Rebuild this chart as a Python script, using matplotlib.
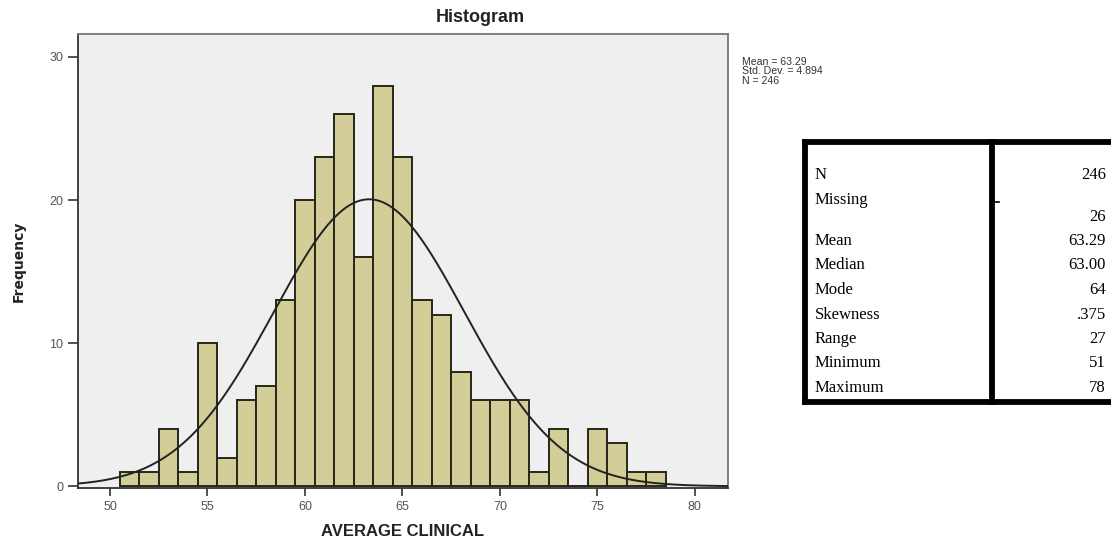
import numpy as np
import matplotlib.pyplot as plt

# bin centres (score values) and frequencies
scores = [51, 52, 53, 54, 55, 56, 57, 58, 59, 60, 61, 62, 63, 64,
          65, 66, 67, 68, 69, 70, 71, 72, 73, 74, 75, 76, 77, 78]
freq = [1, 1, 4, 1, 10, 2, 6, 7, 13, 20, 23, 26, 16, 28,
        23, 13, 12, 8, 6, 6, 6, 1, 4, 0, 4, 3, 1, 1]

mean, sd, n = 63.29, 4.894, 246

# descriptive statistics table
stat_names = ['N', 'Missing', 'Mean', 'Median', 'Mode', 'Skewness',
              'Range', 'Minimum', 'Maximum']
stat_values = ['246', '26', '63.29', '63.00', '64', '.375', '27', '51', '78']

W, H = 1111, 539
fig = plt.figure(figsize=(W / 100, H / 100), dpi=100)
sans = 'Liberation Sans'

# histogram axes (pixel box: left 78, right 728, top 34, bottom 488)
ax = fig.add_axes([78 / W, 1 - 488 / H, 650 / W, 454 / H])
ax.set_facecolor('#efefef')
ax.bar(scores, freq, width=1.0, color='#d3ce97', edgecolor='#26261a',
       linewidth=1.4, zorder=2)

# fitted normal curve
xs = np.linspace(48.36, 81.7, 400)
ys = n * 1.0 / (sd * np.sqrt(2 * np.pi)) * np.exp(-0.5 * ((xs - mean) / sd) ** 2)
ax.plot(xs, ys, color='#222222', linewidth=1.4, zorder=3)

ax.set_xlim(48.36, 81.7)
ax.set_ylim(-0.12, 31.6)
ax.set_xticks([50, 55, 60, 65, 70, 75, 80])
ax.set_yticks([0, 10, 20, 30])
ax.tick_params(axis='both', direction='out', length=6, width=1.2,
               colors='#333333', labelcolor='#555555', labelsize=9)
ax.tick_params(axis='y', length=7)
for lab in ax.get_xticklabels() + ax.get_yticklabels():
    lab.set_fontfamily(sans)
for side in ['left', 'bottom']:
    ax.spines[side].set_color('#333333')
    ax.spines[side].set_linewidth(1.3)
for side in ['top', 'right']:
    ax.spines[side].set_color('#777777')
    ax.spines[side].set_linewidth(1.3)

ax.set_xlabel('AVERAGE CLINICAL', fontsize=12, fontweight='bold',
              color='#222222', labelpad=8, fontfamily=sans)
ax.set_ylabel('Frequency', fontsize=10, fontweight='bold', color='#222222',
              labelpad=17, fontfamily='Liberation Sans Narrow')

fig.text(480 / W, 1 - 17 / H, 'Histogram', ha='center', va='center',
         fontsize=13, fontweight='bold', color='#222222', fontfamily=sans)
fig.text(742 / W, 1 - 57 / H, f'Mean = {mean:.2f}\nStd. Dev. = {sd}\nN = {n}',
         ha='left', va='top', fontsize=7.6, color='#333333', linespacing=0.92,
         fontfamily=sans)

# statistics table drawn in figure pixel coordinates
tab = fig.add_axes([0, 0, 1, 1], facecolor='none')
tab.set_xlim(0, W)
tab.set_ylim(H, 0)
tab.axis('off')
lw = 4.2
tab.plot([802, 1111], [142, 142], color='black', linewidth=lw,
         solid_capstyle='butt')
tab.plot([802, 1111], [402, 402], color='black', linewidth=lw,
         solid_capstyle='butt')
tab.plot([804.5, 804.5], [139, 405], color='black', linewidth=lw,
         solid_capstyle='butt')
tab.plot([991.5, 991.5], [139, 405], color='black', linewidth=lw,
         solid_capstyle='butt')
tab.plot([994, 999], [202, 202], color='black', linewidth=1.2)

row_y = [175, 200, 241, 265, 290, 315, 339, 363, 388]
for i, name in enumerate(stat_names):
    tab.text(815, row_y[i], name, ha='left', va='center', fontsize=12,
             fontfamily='Liberation Serif', color='black')
val_y = [175, 217, 241, 265, 290, 315, 339, 363, 388]
for i, val in enumerate(stat_values):
    tab.text(1106, val_y[i], val, ha='right', va='center', fontsize=12,
             fontfamily='Liberation Serif', color='black')

fig.savefig('out.png', dpi=100)
